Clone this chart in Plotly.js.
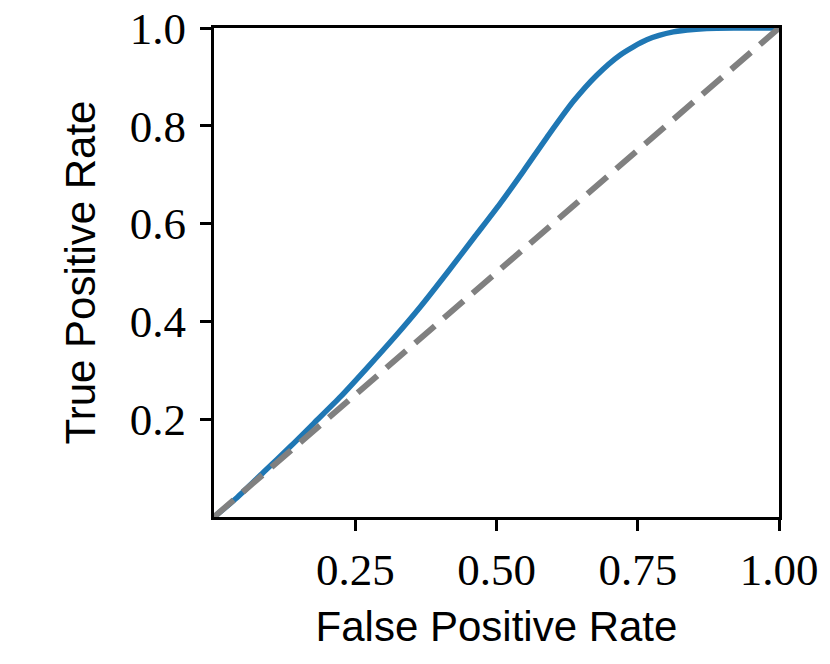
<!DOCTYPE html>
<html>
<head>
<meta charset="utf-8">
<script src="https://cdn.plot.ly/plotly-3.0.1.min.js"></script>
<style>html,body{margin:0;padding:0;background:#fff;}#chart{width:830px;height:664px;}</style>
</head>
<body>
<div id="chart"></div>
<script>
var fpr = [0, 0.041, 0.088, 0.136, 0.177, 0.224, 0.271, 0.319, 0.366, 0.413, 0.46, 0.507, 0.548, 0.589, 0.636, 0.677, 0.719, 0.766, 0.813, 0.872, 0.93, 1.0];
var tpr = [0, 0.040, 0.092, 0.145, 0.192, 0.246, 0.305, 0.367, 0.431, 0.500, 0.571, 0.642, 0.708, 0.776, 0.850, 0.903, 0.945, 0.976, 0.992, 0.999, 1.0, 1.0];
var chanceX = [0, 1];
var chanceY = [0, 1];
var xTickVals = [0.25, 0.5, 0.75, 1.0];
var xTickText = ["0.25", "0.50", "0.75", "1.00"];
var yTickVals = [0.2, 0.4, 0.6, 0.8, 1.0];
var yTickText = ["0.2", "0.4", "0.6", "0.8", "1.0"];

var traces = [
  {x: fpr, y: tpr, mode: "lines", line: {color: "#1f77b4", width: 5.5, shape: "spline", smoothing: 0.7}, hoverinfo: "skip"},
  {x: chanceX, y: chanceY, mode: "lines", line: {color: "#808080", width: 6, dash: "26px,12px"}, hoverinfo: "skip"}
];

var axisCommon = {
  showgrid: false, zeroline: false, showline: true, mirror: true,
  linecolor: "#000", linewidth: 3, ticks: "outside", ticklen: 11, tickwidth: 3, tickcolor: "#000",
  tickfont: {family: "Liberation Serif, serif", size: 45, color: "#000"}
};

var layout = {
  width: 830, height: 664,
  margin: {l: 214, r: 51, t: 28, b: 147},
  paper_bgcolor: "#fff", plot_bgcolor: "#fff",
  showlegend: false,
  xaxis: Object.assign({}, axisCommon, {
    range: [0, 1], tickmode: "array", tickvals: xTickVals, ticktext: xTickText,
    title: {text: "False Positive Rate", font: {family: "Liberation Sans, sans-serif", size: 42, color: "#000"}, standoff: 18}
  }),
  yaxis: Object.assign({}, axisCommon, {
    range: [0, 1], tickmode: "array", tickvals: yTickVals, ticktext: yTickText,
    ticklabelstandoff: 5,
    title: {text: "True Positive Rate", font: {family: "Liberation Sans, sans-serif", size: 42, color: "#000"}, standoff: 22}
  })
};

Plotly.newPlot("chart", traces, layout, {displayModeBar: false, staticPlot: true});
</script>
</body>
</html>
